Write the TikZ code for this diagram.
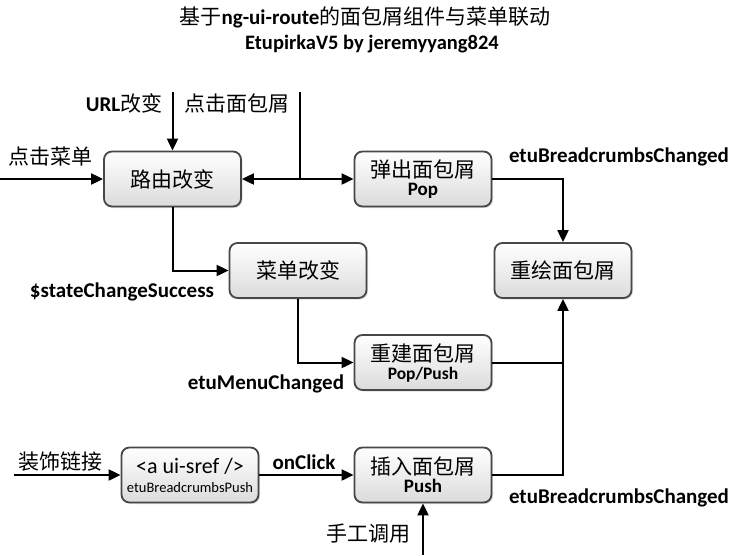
\documentclass[tikz,border=0pt]{standalone}
\usepackage{fontspec}
\setmainfont{Carlito}
\newfontfamily\cjk{Noto Sans CJK SC}
\usetikzlibrary{arrows.meta,shadows}
\begin{document}
\begin{tikzpicture}[x=1pt,y=-1pt,
  box/.style={draw=black!72, line width=1.8pt, rounded corners=8pt,
    top color=white, bottom color=black!14, minimum width=137pt, minimum height=55pt,
    align=center, inner sep=1pt, font=\fontsize{21}{22}\selectfont,
    drop shadow={shadow xshift=1.5pt, shadow yshift=-1.5pt, opacity=0.25}},
  arr/.style={line width=2pt, -{Triangle[length=12pt,width=11pt]}},
  ln/.style={line width=2pt},
  lab/.style={font=\fontsize{21}{22}\selectfont\bfseries, inner sep=0pt},
  clab/.style={font=\fontsize{21}{22}\selectfont\cjk, inner sep=0pt}]
\useasboundingbox (0,0) rectangle (731,555);
% title
\node[inner sep=0pt, font=\fontsize{21}{22}\selectfont] (t1) at (365,17) {{\cjk 基于}\textbf{ng-ui-route}{\cjk 的面包屑组件与菜单联动}};
\node[inner sep=0pt, font=\fontsize{20.5}{22}\selectfont\bfseries] (t2) at (372,44) {EtupirkaV5 by jeremyyang824};
% boxes
\node[box] (route) at (172.5,179) {\cjk 路由改变};
\node[box] (pop) at (423,179) {{\cjk 弹出面包屑}\\[-4pt]{\fontsize{19}{20}\selectfont\bfseries Pop}};
\node[box] (menu) at (298,270.5) {\cjk 菜单改变};
\node[box] (redraw) at (563,270.5) {\cjk 重绘面包屑};
\node[box] (rebuild) at (423,362.5) {{\cjk 重建面包屑}\\[-4pt]{\fontsize{17.5}{18}\selectfont\bfseries Pop/Push}};
\node[box] (asref) at (190,475) {{\fontsize{22}{22}\selectfont <a ui-sref />}\\[-3pt]{\fontsize{14.5}{15}\selectfont etuBreadcrumbsPush}};
\node[box] (insert) at (423,475) {{\cjk 插入面包屑}\\[-4pt]{\fontsize{19}{20}\selectfont\bfseries Push}};
% free ends
\coordinate (cmenuin) at (0,179);
\coordinate (curl) at (172.5,92);
\coordinate (cclick) at (300,92);
\coordinate (cjunc) at (300,179);
\coordinate (cdecor) at (14,475);
\coordinate (cmanual) at (423,555);
% connectors
\draw[arr] (cmenuin) -- (route.west);
\draw[arr] (curl) -- (route.north);
\draw[ln] (cclick) -- (cjunc);
\draw[arr] (cjunc) -- (route.east);
\draw[arr] (cjunc) -- (pop.west);
\draw[arr] (route.south) |- (menu.west);
\draw[arr] (pop.east) -| (redraw.north);
\draw[arr] (menu.south) |- (rebuild.west);
\draw[ln] (rebuild.east) -- (rebuild.east -| redraw.south);
\draw[arr] (insert.east) -| (redraw.south);
\draw[arr] (cdecor) -- (asref.west);
\draw[arr] (asref.east) -- (insert.west);
\draw[arr] (cmanual) -- (insert.south);
% labels
\node[clab] (l1) at (51,157) {点击菜单};
\node[inner sep=0pt, font=\fontsize{21}{22}\selectfont] (l2) at (124,103) {\textbf{URL}{\cjk 改变}};
\node[clab] (l3) at (237,103) {点击面包屑};
\node[lab] (l4) at (619,157) {etuBreadcrumbsChanged};
\node[lab] (l5) at (122,292) {\$stateChangeSuccess};
\node[lab] (l6) at (266,384) {etuMenuChanged};
\node[clab] (l7) at (61,462) {装饰链接};
\node[lab] (l8) at (304,462) {onClick};
\node[lab] (l9) at (619,498) {etuBreadcrumbsChanged};
\node[clab] (l10) at (368,534) {手工调用};
\end{tikzpicture}
\end{document}
